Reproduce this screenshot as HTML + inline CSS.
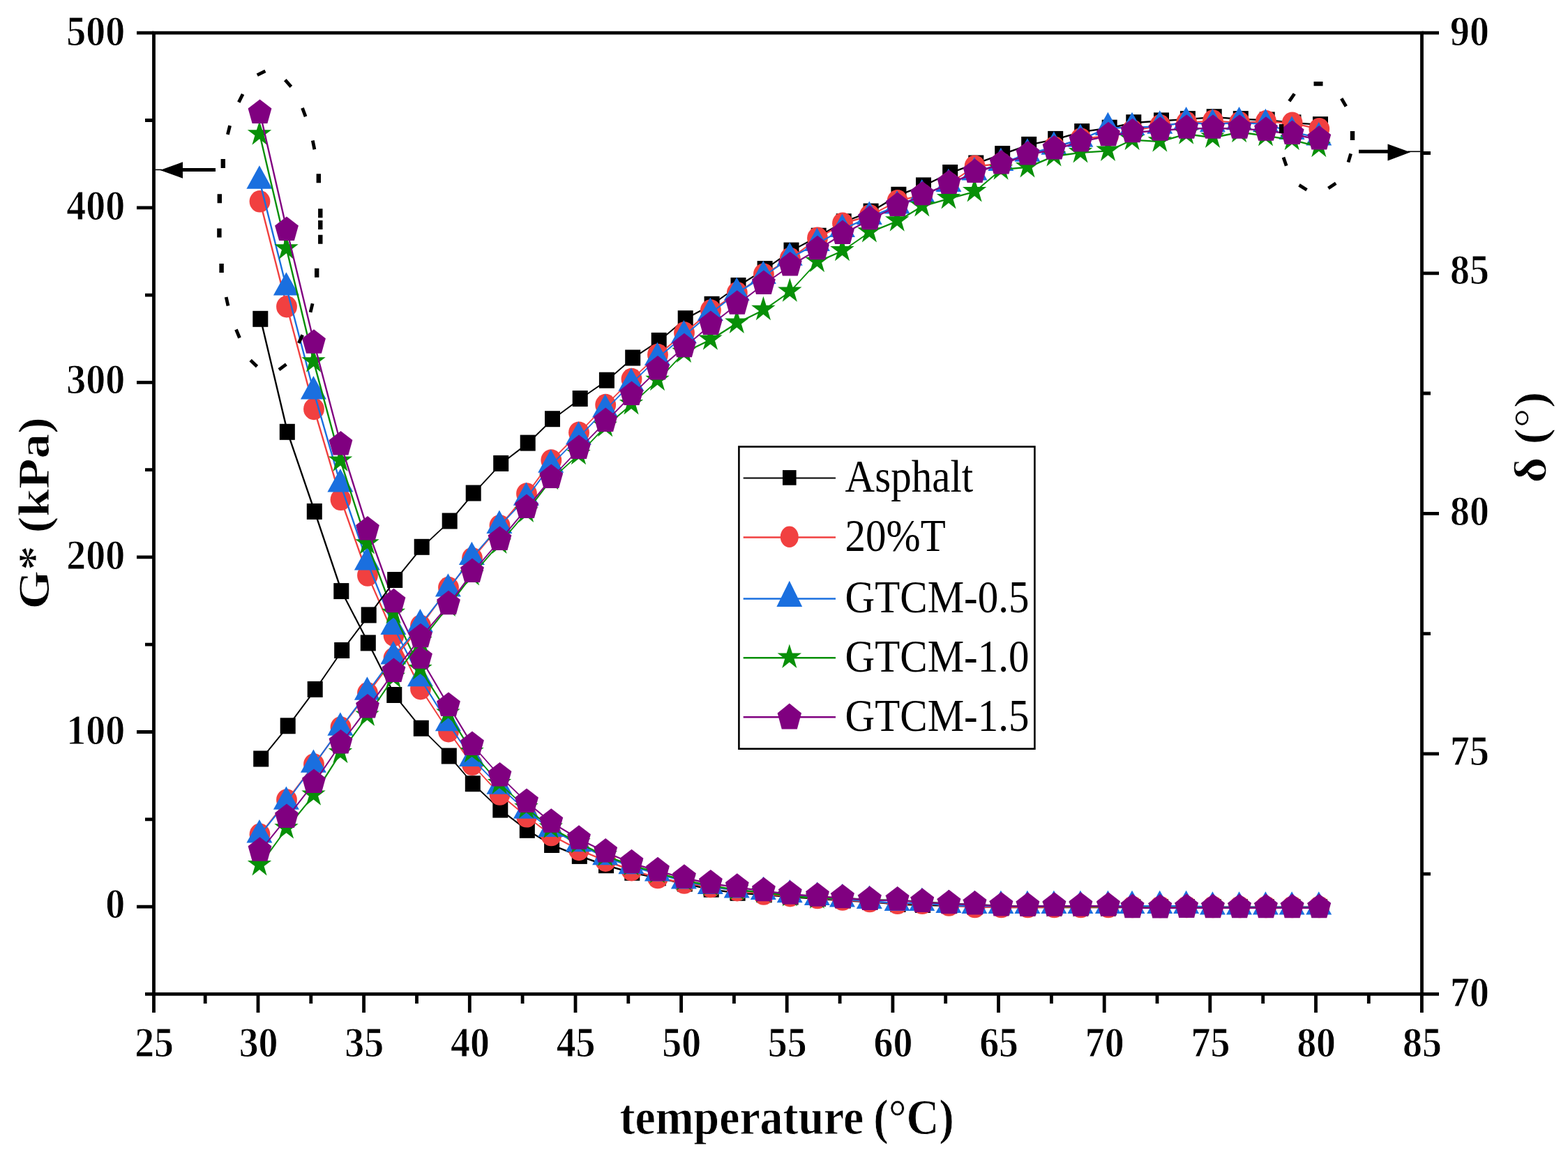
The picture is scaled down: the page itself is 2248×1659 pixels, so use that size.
<!DOCTYPE html>
<html lang="en"><head><meta charset="utf-8"><title>G* and δ versus temperature</title>
<style>html,body{margin:0;padding:0;background:#fff;}body{width:2248px;height:1659px;overflow:hidden;}svg{display:block;}text{font-family:"Liberation Serif","DejaVu Serif",serif;fill:#000;}</style>
</head><body>
<svg width="2248" height="1659" viewBox="0 0 2248 1659">
<rect x="0" y="0" width="2248" height="1659" fill="#fff"/>
<defs>
<rect id="mk" x="-11" y="-11.5" width="22" height="23"/>
<ellipse id="mr" cx="0" cy="0" rx="14.9" ry="15.8"/>
<path id="mb" d="M0 -16.6 L18.5 16.8 H-18.5 Z"/>
<path id="mg" d="M0 -19 L4.1 -6 L17.2 -6 L6.6 2 L10.6 15.4 L0 7 L-10.6 15.4 L-6.6 2 L-17.2 -6 L-4.1 -6 Z"/>
<path id="mp" d="M0 -18.6 L16.9 -5.6 L10.9 15.9 H-10.9 L-16.9 -5.6 Z"/>
</defs>
<g id="plot-gstar">
<g fill="#000000" stroke="none">
<path d="M604.2 1044.6L644.2 1084.3M644.2 1084.3L678.2 1124M678.2 1124L717.7 1161.4" fill="none" stroke="#000000" stroke-width="1.8" stroke-linecap="round"/>
<path d="M565.7 996.8L604.2 1044.6M717.7 1161.4L756.2 1190.6" fill="none" stroke="#000000" stroke-width="2" stroke-linecap="round"/>
<path d="M489.7 847.9L528.2 922.2M528.2 922.2L565.7 996.8M756.2 1190.6L791.5 1211.8" fill="none" stroke="#000000" stroke-width="2.2" stroke-linecap="round"/>
<path d="M373.7 457.6L412.2 619.6M412.2 619.6L451.2 733.7M451.2 733.7L489.7 847.9M791.5 1211.8L831.2 1227.7M831.2 1227.7L869.4 1241M869.4 1241L906.7 1251.6M906.7 1251.6L944.2 1259.1M944.2 1259.1L982.2 1267.4M982.2 1267.4L1020.1 1275.5M1020.1 1275.5L1058 1280.6M1058 1280.6L1096.1 1283.1M1096.1 1283.1L1134 1286.3M1134 1286.3L1173.2 1288.8M1173.2 1288.8L1209.2 1291.3M1209.2 1291.3L1248.1 1293.3M1248.1 1293.3L1287.9 1296.8M1287.9 1296.8L1323.5 1297.8M1323.5 1297.8L1361.7 1298.8M1361.7 1298.8L1398.8 1299.8M1398.8 1299.8L1436.7 1301M1436.7 1301L1474.7 1301M1474.7 1301L1512.7 1301M1512.7 1301L1550.7 1301M1550.7 1301L1590.2 1301M1590.2 1301L1624.8 1301M1624.8 1301L1664.5 1301M1664.5 1301L1702.4 1301M1702.4 1301L1740.2 1301M1740.2 1301L1778.3 1301M1778.3 1301L1816.2 1301M1816.2 1301L1853.9 1301M1853.9 1301L1892.5 1301" fill="none" stroke="#000000" stroke-width="2.4" stroke-linecap="round"/>
<use href="#mk" x="373.3" y="457.3"/><use href="#mk" x="411.8" y="619.3"/><use href="#mk" x="450.8" y="733.4"/><use href="#mk" x="489.3" y="847.6"/><use href="#mk" x="527.8" y="921.9"/><use href="#mk" x="565.3" y="996.5"/><use href="#mk" x="603.8" y="1044.3"/><use href="#mk" x="643.8" y="1084"/><use href="#mk" x="677.8" y="1123.7"/><use href="#mk" x="717.3" y="1161.1"/><use href="#mk" x="755.8" y="1190.3"/><use href="#mk" x="791.1" y="1211.5"/><use href="#mk" x="830.8" y="1227.4"/><use href="#mk" x="869" y="1240.7"/><use href="#mk" x="906.3" y="1251.3"/><use href="#mk" x="943.8" y="1258.8"/><use href="#mk" x="981.8" y="1267.1"/><use href="#mk" x="1019.7" y="1275.2"/><use href="#mk" x="1057.6" y="1280.3"/><use href="#mk" x="1095.7" y="1282.8"/><use href="#mk" x="1133.6" y="1286"/><use href="#mk" x="1172.8" y="1288.5"/><use href="#mk" x="1208.8" y="1291"/><use href="#mk" x="1247.7" y="1293"/><use href="#mk" x="1287.5" y="1296.5"/><use href="#mk" x="1323.1" y="1297.5"/><use href="#mk" x="1361.3" y="1298.5"/><use href="#mk" x="1398.4" y="1299.5"/><use href="#mk" x="1436.3" y="1300.7"/><use href="#mk" x="1474.3" y="1300.7"/><use href="#mk" x="1512.3" y="1300.7"/><use href="#mk" x="1550.3" y="1300.7"/><use href="#mk" x="1589.8" y="1300.7"/><use href="#mk" x="1624.4" y="1300.7"/><use href="#mk" x="1664.1" y="1300.7"/><use href="#mk" x="1702" y="1300.7"/><use href="#mk" x="1739.8" y="1300.7"/><use href="#mk" x="1777.9" y="1300.7"/><use href="#mk" x="1815.8" y="1300.7"/><use href="#mk" x="1853.5" y="1300.7"/><use href="#mk" x="1892.1" y="1300.7"/>
</g>
<g fill="#f14040" stroke="none">
<path d="M677.4 1096.6L716.9 1139.3" fill="none" stroke="#f14040" stroke-width="1.8" stroke-linecap="round"/>
<path d="M603.4 987.9L643.4 1049M643.4 1049L677.4 1096.6M716.9 1139.3L755.4 1171.1M755.4 1171.1L790.7 1197.8" fill="none" stroke="#f14040" stroke-width="2" stroke-linecap="round"/>
<path d="M527.4 825.3L564.9 911.3M564.9 911.3L603.4 987.9M790.7 1197.8L830.4 1218.7" fill="none" stroke="#f14040" stroke-width="2.2" stroke-linecap="round"/>
<path d="M372.9 289.1L411.4 440M411.4 440L450.4 586.7M450.4 586.7L488.9 716.6M488.9 716.6L527.4 825.3M830.4 1218.7L868.6 1234.5M868.6 1234.5L905.9 1247.9M905.9 1247.9L943.4 1258.8M943.4 1258.8L981.4 1266.3M981.4 1266.3L1019.3 1271.8M1019.3 1271.8L1057.2 1276.9M1057.2 1276.9L1095.3 1282.3M1095.3 1282.3L1133.2 1284.9M1133.2 1284.9L1172.4 1287.8M1172.4 1287.8L1208.4 1290.3M1208.4 1290.3L1247.3 1292.8M1247.3 1292.8L1287.1 1295.6M1287.1 1295.6L1322.7 1295.6M1322.7 1295.6L1360.9 1298.3M1360.9 1298.3L1398 1300.8M1398 1300.8L1435.9 1300.8M1435.9 1300.8L1473.9 1300.8M1473.9 1300.8L1511.9 1300.8M1511.9 1300.8L1549.9 1300.8M1549.9 1300.8L1589.4 1300.8M1589.4 1300.8L1624 1300.8M1624 1300.8L1663.7 1300.8M1663.7 1300.8L1701.6 1300.8M1701.6 1300.8L1739.4 1300.8M1739.4 1300.8L1777.5 1300.8M1777.5 1300.8L1815.4 1300.8M1815.4 1300.8L1853.1 1300.8M1853.1 1300.8L1891.7 1300.8" fill="none" stroke="#f14040" stroke-width="2.4" stroke-linecap="round"/>
<use href="#mr" x="372.5" y="288.8"/><use href="#mr" x="411" y="439.7"/><use href="#mr" x="450" y="586.4"/><use href="#mr" x="488.5" y="716.3"/><use href="#mr" x="527" y="825"/><use href="#mr" x="564.5" y="911"/><use href="#mr" x="603" y="987.6"/><use href="#mr" x="643" y="1048.7"/><use href="#mr" x="677" y="1096.3"/><use href="#mr" x="716.5" y="1139"/><use href="#mr" x="755" y="1170.8"/><use href="#mr" x="790.3" y="1197.5"/><use href="#mr" x="830" y="1218.4"/><use href="#mr" x="868.2" y="1234.2"/><use href="#mr" x="905.5" y="1247.6"/><use href="#mr" x="943" y="1258.5"/><use href="#mr" x="981" y="1266"/><use href="#mr" x="1018.9" y="1271.5"/><use href="#mr" x="1056.8" y="1276.6"/><use href="#mr" x="1094.9" y="1282"/><use href="#mr" x="1132.8" y="1284.6"/><use href="#mr" x="1172" y="1287.5"/><use href="#mr" x="1208" y="1290"/><use href="#mr" x="1246.9" y="1292.5"/><use href="#mr" x="1286.7" y="1295.3"/><use href="#mr" x="1322.3" y="1295.3"/><use href="#mr" x="1360.5" y="1298"/><use href="#mr" x="1397.6" y="1300.5"/><use href="#mr" x="1435.5" y="1300.5"/><use href="#mr" x="1473.5" y="1300.5"/><use href="#mr" x="1511.5" y="1300.5"/><use href="#mr" x="1549.5" y="1300.5"/><use href="#mr" x="1589" y="1300.5"/><use href="#mr" x="1623.6" y="1300.5"/><use href="#mr" x="1663.3" y="1300.5"/><use href="#mr" x="1701.2" y="1300.5"/><use href="#mr" x="1739" y="1300.5"/><use href="#mr" x="1777.1" y="1300.5"/><use href="#mr" x="1815" y="1300.5"/><use href="#mr" x="1852.7" y="1300.5"/><use href="#mr" x="1891.3" y="1300.5"/>
</g>
<g fill="#1a6fdf" stroke="none">
<path d="M676.8 1088.2L716.3 1128M716.3 1128L754.8 1163" fill="none" stroke="#1a6fdf" stroke-width="1.8" stroke-linecap="round"/>
<path d="M642.8 1037.4L676.8 1088.2M754.8 1163L790.1 1189.3" fill="none" stroke="#1a6fdf" stroke-width="2" stroke-linecap="round"/>
<path d="M564.3 899.2L602.8 973.5M602.8 973.5L642.8 1037.4M790.1 1189.3L829.8 1210.5M829.8 1210.5L868 1229.4" fill="none" stroke="#1a6fdf" stroke-width="2.2" stroke-linecap="round"/>
<path d="M372.3 259.9L410.8 412.8M410.8 412.8L449.8 561.7M449.8 561.7L488.3 694.6M488.3 694.6L526.8 806.6M526.8 806.6L564.3 899.2M868 1229.4L905.3 1242.4M905.3 1242.4L942.8 1252.8M942.8 1252.8L980.8 1263.6M980.8 1263.6L1018.7 1271.3M1018.7 1271.3L1056.6 1276.8M1056.6 1276.8L1094.7 1279.3M1094.7 1279.3L1132.6 1283.5M1132.6 1283.5L1171.8 1287.1M1171.8 1287.1L1207.8 1289.6M1207.8 1289.6L1246.7 1292.1M1246.7 1292.1L1286.5 1295.1M1286.5 1295.1L1322.1 1295.1M1322.1 1295.1L1360.3 1298.3M1360.3 1298.3L1397.4 1299.3M1397.4 1299.3L1435.3 1299.3M1435.3 1299.3L1473.3 1299.3M1473.3 1299.3L1511.3 1299.3M1511.3 1299.3L1549.3 1299.3M1549.3 1299.3L1588.8 1299.3M1588.8 1299.3L1623.4 1299.3M1623.4 1299.3L1663.1 1299.3M1663.1 1299.3L1701 1299.3M1701 1299.3L1738.8 1300.8M1738.8 1300.8L1776.9 1300.8M1776.9 1300.8L1814.8 1300.8M1814.8 1300.8L1852.5 1300.8M1852.5 1300.8L1891.1 1300.8" fill="none" stroke="#1a6fdf" stroke-width="2.4" stroke-linecap="round"/>
<use href="#mb" x="371.9" y="253.9"/><use href="#mb" x="410.4" y="406.8"/><use href="#mb" x="449.4" y="555.7"/><use href="#mb" x="487.9" y="688.6"/><use href="#mb" x="526.4" y="800.6"/><use href="#mb" x="563.9" y="893.2"/><use href="#mb" x="602.4" y="967.5"/><use href="#mb" x="642.4" y="1031.4"/><use href="#mb" x="676.4" y="1082.2"/><use href="#mb" x="715.9" y="1122"/><use href="#mb" x="754.4" y="1157"/><use href="#mb" x="789.7" y="1183.3"/><use href="#mb" x="829.4" y="1204.5"/><use href="#mb" x="867.6" y="1223.4"/><use href="#mb" x="904.9" y="1236.4"/><use href="#mb" x="942.4" y="1246.8"/><use href="#mb" x="980.4" y="1257.6"/><use href="#mb" x="1018.3" y="1265.3"/><use href="#mb" x="1056.2" y="1270.8"/><use href="#mb" x="1094.3" y="1273.3"/><use href="#mb" x="1132.2" y="1277.5"/><use href="#mb" x="1171.4" y="1281.1"/><use href="#mb" x="1207.4" y="1283.6"/><use href="#mb" x="1246.3" y="1286.1"/><use href="#mb" x="1286.1" y="1289.1"/><use href="#mb" x="1321.7" y="1289.1"/><use href="#mb" x="1359.9" y="1292.3"/><use href="#mb" x="1397" y="1293.3"/><use href="#mb" x="1434.9" y="1293.3"/><use href="#mb" x="1472.9" y="1293.3"/><use href="#mb" x="1510.9" y="1293.3"/><use href="#mb" x="1548.9" y="1293.3"/><use href="#mb" x="1588.4" y="1293.3"/><use href="#mb" x="1623" y="1293.3"/><use href="#mb" x="1662.7" y="1293.3"/><use href="#mb" x="1700.6" y="1293.3"/><use href="#mb" x="1738.4" y="1294.8"/><use href="#mb" x="1776.5" y="1294.8"/><use href="#mb" x="1814.4" y="1294.8"/><use href="#mb" x="1852.1" y="1294.8"/><use href="#mb" x="1890.7" y="1294.8"/>
</g>
<g fill="#078f07" stroke="none">
<path d="M676.9 1078.7L716.4 1123.8M716.4 1123.8L754.9 1158.9" fill="none" stroke="#078f07" stroke-width="1.8" stroke-linecap="round"/>
<path d="M754.9 1158.9L790.2 1187.3" fill="none" stroke="#078f07" stroke-width="2" stroke-linecap="round"/>
<path d="M564.4 879.6L602.9 959.9M602.9 959.9L642.9 1023.4M642.9 1023.4L676.9 1078.7M790.2 1187.3L829.9 1209M829.9 1209L868.1 1227.3" fill="none" stroke="#078f07" stroke-width="2.2" stroke-linecap="round"/>
<path d="M372.4 193.1L410.9 357.1M410.9 357.1L449.9 519.1M449.9 519.1L488.4 661.4M488.4 661.4L526.9 780M526.9 780L564.4 879.6M868.1 1227.3L905.4 1240.7M905.4 1240.7L942.9 1251.6M942.9 1251.6L980.9 1262.4M980.9 1262.4L1018.8 1269.9M1018.8 1269.9L1056.7 1276.1M1056.7 1276.1L1094.8 1279.7M1094.8 1279.7L1132.7 1284.8M1132.7 1284.8L1171.9 1288.1M1171.9 1288.1L1207.9 1287.8M1207.9 1287.8L1246.8 1290.3M1246.8 1290.3L1286.6 1290.8M1286.6 1290.8L1322.2 1293.3M1322.2 1293.3L1360.4 1295.7M1360.4 1295.7L1397.5 1297M1397.5 1297L1435.4 1298.9M1435.4 1298.9L1473.4 1299.5M1473.4 1299.5L1511.4 1300.1M1511.4 1300.1L1549.4 1300.1M1549.4 1300.1L1588.9 1300.1M1588.9 1300.1L1623.5 1301.3M1623.5 1301.3L1663.2 1301.9M1663.2 1301.9L1701.1 1301.5M1701.1 1301.5L1738.9 1301.7M1738.9 1301.7L1777 1301.7M1777 1301.7L1814.9 1301.7M1814.9 1301.7L1852.6 1301.7M1852.6 1301.7L1891.2 1301.7" fill="none" stroke="#078f07" stroke-width="2.4" stroke-linecap="round"/>
<use href="#mg" x="372" y="192.3"/><use href="#mg" x="410.5" y="356.3"/><use href="#mg" x="449.5" y="518.3"/><use href="#mg" x="488" y="660.6"/><use href="#mg" x="526.5" y="779.2"/><use href="#mg" x="564" y="878.8"/><use href="#mg" x="602.5" y="959.1"/><use href="#mg" x="642.5" y="1022.6"/><use href="#mg" x="676.5" y="1077.9"/><use href="#mg" x="716" y="1123"/><use href="#mg" x="754.5" y="1158.1"/><use href="#mg" x="789.8" y="1186.5"/><use href="#mg" x="829.5" y="1208.2"/><use href="#mg" x="867.7" y="1226.5"/><use href="#mg" x="905" y="1239.9"/><use href="#mg" x="942.5" y="1250.8"/><use href="#mg" x="980.5" y="1261.6"/><use href="#mg" x="1018.4" y="1269.1"/><use href="#mg" x="1056.3" y="1275.3"/><use href="#mg" x="1094.4" y="1278.9"/><use href="#mg" x="1132.3" y="1284"/><use href="#mg" x="1171.5" y="1287.3"/><use href="#mg" x="1207.5" y="1287"/><use href="#mg" x="1246.4" y="1289.5"/><use href="#mg" x="1286.2" y="1290"/><use href="#mg" x="1321.8" y="1292.5"/><use href="#mg" x="1360" y="1294.9"/><use href="#mg" x="1397.1" y="1296.2"/><use href="#mg" x="1435" y="1298.1"/><use href="#mg" x="1473" y="1298.7"/><use href="#mg" x="1511" y="1299.3"/><use href="#mg" x="1549" y="1299.3"/><use href="#mg" x="1588.5" y="1299.3"/><use href="#mg" x="1623.1" y="1300.5"/><use href="#mg" x="1662.8" y="1301.1"/><use href="#mg" x="1700.7" y="1300.7"/><use href="#mg" x="1738.5" y="1300.9"/><use href="#mg" x="1776.6" y="1300.9"/><use href="#mg" x="1814.5" y="1300.9"/><use href="#mg" x="1852.2" y="1300.9"/><use href="#mg" x="1890.8" y="1300.9"/>
</g>
<g fill="#800080" stroke="none">
<path d="M677.4 1068.5L716.9 1113.1M716.9 1113.1L755.4 1150.5" fill="none" stroke="#800080" stroke-width="1.8" stroke-linecap="round"/>
<path d="M755.4 1150.5L790.7 1179.4" fill="none" stroke="#800080" stroke-width="2" stroke-linecap="round"/>
<path d="M564.9 863.8L603.4 944.3M603.4 944.3L643.4 1012.5M643.4 1012.5L677.4 1068.5M790.7 1179.4L830.4 1203.3M830.4 1203.3L868.6 1222M868.6 1222L905.9 1237.9" fill="none" stroke="#800080" stroke-width="2.2" stroke-linecap="round"/>
<path d="M372.9 162.5L411.4 330.5M411.4 330.5L450.4 492.3M450.4 492.3L488.9 638.2M488.9 638.2L527.4 760.1M527.4 760.1L564.9 863.8M905.9 1237.9L943.4 1248.8M943.4 1248.8L981.4 1259.3M981.4 1259.3L1019.3 1267M1019.3 1267L1057.2 1272.4M1057.2 1272.4L1095.3 1277.8M1095.3 1277.8L1133.2 1282.3M1133.2 1282.3L1172.4 1285.3M1172.4 1285.3L1208.4 1287.8M1208.4 1287.8L1247.3 1290.6M1247.3 1290.6L1287.1 1291.1M1287.1 1291.1L1322.7 1293.6M1322.7 1293.6L1360.9 1295.9M1360.9 1295.9L1398 1297.2M1398 1297.2L1435.9 1299.1M1435.9 1299.1L1473.9 1299.7M1473.9 1299.7L1511.9 1299.3M1511.9 1299.3L1549.9 1299.3M1549.9 1299.3L1589.4 1299.3M1589.4 1299.3L1624 1301.8M1624 1301.8L1663.7 1302.1M1663.7 1302.1L1701.6 1301.7M1701.6 1301.7L1739.4 1301.9M1739.4 1301.9L1777.5 1301.9M1777.5 1301.9L1815.4 1301.9M1815.4 1301.9L1853.1 1301.9M1853.1 1301.9L1891.7 1301.9" fill="none" stroke="#800080" stroke-width="2.4" stroke-linecap="round"/>
<use href="#mp" x="372.5" y="161"/><use href="#mp" x="411" y="329"/><use href="#mp" x="450" y="490.8"/><use href="#mp" x="488.5" y="636.7"/><use href="#mp" x="527" y="758.6"/><use href="#mp" x="564.5" y="862.3"/><use href="#mp" x="603" y="942.8"/><use href="#mp" x="643" y="1011"/><use href="#mp" x="677" y="1067"/><use href="#mp" x="716.5" y="1111.6"/><use href="#mp" x="755" y="1149"/><use href="#mp" x="790.3" y="1177.9"/><use href="#mp" x="830" y="1201.8"/><use href="#mp" x="868.2" y="1220.5"/><use href="#mp" x="905.5" y="1236.4"/><use href="#mp" x="943" y="1247.3"/><use href="#mp" x="981" y="1257.8"/><use href="#mp" x="1018.9" y="1265.5"/><use href="#mp" x="1056.8" y="1270.9"/><use href="#mp" x="1094.9" y="1276.3"/><use href="#mp" x="1132.8" y="1280.8"/><use href="#mp" x="1172" y="1283.8"/><use href="#mp" x="1208" y="1286.3"/><use href="#mp" x="1246.9" y="1289.1"/><use href="#mp" x="1286.7" y="1289.6"/><use href="#mp" x="1322.3" y="1292.1"/><use href="#mp" x="1360.5" y="1294.4"/><use href="#mp" x="1397.6" y="1295.7"/><use href="#mp" x="1435.5" y="1297.6"/><use href="#mp" x="1473.5" y="1298.2"/><use href="#mp" x="1511.5" y="1297.8"/><use href="#mp" x="1549.5" y="1297.8"/><use href="#mp" x="1589" y="1297.8"/><use href="#mp" x="1623.6" y="1300.3"/><use href="#mp" x="1663.3" y="1300.6"/><use href="#mp" x="1701.2" y="1300.2"/><use href="#mp" x="1739" y="1300.4"/><use href="#mp" x="1777.1" y="1300.4"/><use href="#mp" x="1815" y="1300.4"/><use href="#mp" x="1852.7" y="1300.4"/><use href="#mp" x="1891.3" y="1300.4"/>
</g>
</g>
<g id="plot-delta">
<g fill="#000000" stroke="none">
<path d="M605.1 784.6L645.1 747.3M679.1 707.3L718.6 664.7M757.1 635.4L792.4 601M870.3 545.5L907.6 513.3" fill="none" stroke="#000000" stroke-width="1.8" stroke-linecap="round"/>
<path d="M374.6 1088.3L413.1 1041.1M413.1 1041.1L452.1 988.7M452.1 988.7L490.6 932.8M490.6 932.8L529.1 882.2M529.1 882.2L566.6 831.8M566.6 831.8L605.1 784.6M645.1 747.3L679.1 707.3M718.6 664.7L757.1 635.4M792.4 601L832.1 571.8M832.1 571.8L870.3 545.5M907.6 513.3L945.1 488.7M945.1 488.7L983.1 457M1021 436.6L1058.9 409.8M1097 385.9L1134.9 359.4" fill="none" stroke="#000000" stroke-width="2" stroke-linecap="round"/>
<path d="M983.1 457L1021 436.6M1058.9 409.8L1097 385.9M1134.9 359.4L1174.1 338.5M1174.1 338.5L1210.1 318M1249 303.4L1288.8 279.6M1324.4 266.2L1362.6 247.8" fill="none" stroke="#000000" stroke-width="2.2" stroke-linecap="round"/>
<path d="M1210.1 318L1249 303.4M1288.8 279.6L1324.4 266.2M1362.6 247.8L1399.7 234.3M1399.7 234.3L1437.6 220.9M1437.6 220.9L1475.6 207.7M1475.6 207.7L1513.6 199.7M1513.6 199.7L1551.6 188.9M1551.6 188.9L1591.1 183.5M1591.1 183.5L1625.7 176M1625.7 176L1665.4 173.2M1665.4 173.2L1703.3 170.9M1703.3 170.9L1741.1 168M1741.1 168L1779.2 170.9M1779.2 170.9L1817.1 172.2M1817.1 172.2L1854.8 176.1M1854.8 176.1L1893.4 178.9" fill="none" stroke="#000000" stroke-width="2.4" stroke-linecap="round"/>
<use href="#mk" x="374.2" y="1088"/><use href="#mk" x="412.7" y="1040.8"/><use href="#mk" x="451.7" y="988.4"/><use href="#mk" x="490.2" y="932.5"/><use href="#mk" x="528.7" y="881.9"/><use href="#mk" x="566.2" y="831.5"/><use href="#mk" x="604.7" y="784.3"/><use href="#mk" x="644.7" y="747"/><use href="#mk" x="678.7" y="707"/><use href="#mk" x="718.2" y="664.4"/><use href="#mk" x="756.7" y="635.1"/><use href="#mk" x="792" y="600.7"/><use href="#mk" x="831.7" y="571.5"/><use href="#mk" x="869.9" y="545.2"/><use href="#mk" x="907.2" y="513"/><use href="#mk" x="944.7" y="488.4"/><use href="#mk" x="982.7" y="456.7"/><use href="#mk" x="1020.6" y="436.3"/><use href="#mk" x="1058.5" y="409.5"/><use href="#mk" x="1096.6" y="385.6"/><use href="#mk" x="1134.5" y="359.1"/><use href="#mk" x="1173.7" y="338.2"/><use href="#mk" x="1209.7" y="317.7"/><use href="#mk" x="1248.6" y="303.1"/><use href="#mk" x="1288.4" y="279.3"/><use href="#mk" x="1324" y="265.9"/><use href="#mk" x="1362.2" y="247.5"/><use href="#mk" x="1399.3" y="234"/><use href="#mk" x="1437.2" y="220.6"/><use href="#mk" x="1475.2" y="207.4"/><use href="#mk" x="1513.2" y="199.4"/><use href="#mk" x="1551.2" y="188.6"/><use href="#mk" x="1590.7" y="183.2"/><use href="#mk" x="1625.3" y="175.7"/><use href="#mk" x="1665" y="172.9"/><use href="#mk" x="1702.9" y="170.6"/><use href="#mk" x="1740.7" y="167.7"/><use href="#mk" x="1778.8" y="170.6"/><use href="#mk" x="1816.7" y="171.9"/><use href="#mk" x="1854.4" y="175.8"/><use href="#mk" x="1893" y="178.6"/>
</g>
<g fill="#f14040" stroke="none">
<path d="M790.7 660.3L830.4 620.5M830.4 620.5L868.6 580.9M868.6 580.9L905.9 543.9M905.9 543.9L943.4 508.8" fill="none" stroke="#f14040" stroke-width="1.8" stroke-linecap="round"/>
<path d="M372.9 1196.6L411.4 1147.3M411.4 1147.3L450.4 1096.3M450.4 1096.3L488.9 1043.3M488.9 1043.3L527.4 994.1M527.4 994.1L564.9 944.3M564.9 944.3L603.4 897.5M603.4 897.5L643.4 842.9M643.4 842.9L677.4 800.8M677.4 800.8L716.9 754M716.9 754L755.4 708.3M755.4 708.3L790.7 660.3M943.4 508.8L981.4 477.4M981.4 477.4L1019.3 445.3M1019.3 445.3L1057.2 420.2M1057.2 420.2L1095.3 393.5M1133.2 370.9L1172.4 341.7M1360.9 263.3L1398 238.5" fill="none" stroke="#f14040" stroke-width="2" stroke-linecap="round"/>
<path d="M1095.3 393.5L1133.2 370.9M1172.4 341.7L1208.4 320.5M1247.3 309.1L1287.1 288.2M1322.7 279.7L1360.9 263.3" fill="none" stroke="#f14040" stroke-width="2.2" stroke-linecap="round"/>
<path d="M1208.4 320.5L1247.3 309.1M1287.1 288.2L1322.7 279.7M1398 238.5L1435.9 234.8M1435.9 234.8L1473.9 222M1473.9 222L1511.9 211.3M1511.9 211.3L1549.9 199.3M1549.9 199.3L1589.4 194.7M1589.4 194.7L1624 187.3M1624 187.3L1663.7 180.1M1663.7 180.1L1701.6 175.9M1701.6 175.9L1739.4 173.4M1739.4 173.4L1777.5 175.9M1777.5 175.9L1815.4 174.2M1815.4 174.2L1853.1 176.7M1853.1 176.7L1891.7 185.1" fill="none" stroke="#f14040" stroke-width="2.4" stroke-linecap="round"/>
<use href="#mr" x="372.5" y="1196.3"/><use href="#mr" x="411" y="1147"/><use href="#mr" x="450" y="1096"/><use href="#mr" x="488.5" y="1043"/><use href="#mr" x="527" y="993.8"/><use href="#mr" x="564.5" y="944"/><use href="#mr" x="603" y="897.2"/><use href="#mr" x="643" y="842.6"/><use href="#mr" x="677" y="800.5"/><use href="#mr" x="716.5" y="753.7"/><use href="#mr" x="755" y="708"/><use href="#mr" x="790.3" y="660"/><use href="#mr" x="830" y="620.2"/><use href="#mr" x="868.2" y="580.6"/><use href="#mr" x="905.5" y="543.6"/><use href="#mr" x="943" y="508.5"/><use href="#mr" x="981" y="477.1"/><use href="#mr" x="1018.9" y="445"/><use href="#mr" x="1056.8" y="419.9"/><use href="#mr" x="1094.9" y="393.2"/><use href="#mr" x="1132.8" y="370.6"/><use href="#mr" x="1172" y="341.4"/><use href="#mr" x="1208" y="320.2"/><use href="#mr" x="1246.9" y="308.8"/><use href="#mr" x="1286.7" y="287.9"/><use href="#mr" x="1322.3" y="279.4"/><use href="#mr" x="1360.5" y="263"/><use href="#mr" x="1397.6" y="238.2"/><use href="#mr" x="1435.5" y="234.5"/><use href="#mr" x="1473.5" y="221.7"/><use href="#mr" x="1511.5" y="211"/><use href="#mr" x="1549.5" y="199"/><use href="#mr" x="1589" y="194.4"/><use href="#mr" x="1623.6" y="187"/><use href="#mr" x="1663.3" y="179.8"/><use href="#mr" x="1701.2" y="175.6"/><use href="#mr" x="1739" y="173.1"/><use href="#mr" x="1777.1" y="175.6"/><use href="#mr" x="1815" y="173.9"/><use href="#mr" x="1852.7" y="176.4"/><use href="#mr" x="1891.3" y="184.8"/>
</g>
<g fill="#1a6fdf" stroke="none">
<path d="M676.8 799.3L716.3 754.2M716.3 754.2L754.8 714M790.1 666.9L829.8 626.8M829.8 626.8L868 587.6M868 587.6L905.3 550M905.3 550L942.8 513.3" fill="none" stroke="#1a6fdf" stroke-width="1.8" stroke-linecap="round"/>
<path d="M372.3 1197.6L410.8 1150M410.8 1150L449.8 1097M449.8 1097L488.3 1043.9M488.3 1043.9L526.8 992.9M526.8 992.9L564.3 941.6M564.3 941.6L602.8 895.7M602.8 895.7L642.8 844.8M642.8 844.8L676.8 799.3M754.8 714L790.1 666.9M942.8 513.3L980.8 481.5M980.8 481.5L1018.7 449.1M1018.7 449.1L1056.6 420.2M1094.7 396.3L1132.6 370" fill="none" stroke="#1a6fdf" stroke-width="2" stroke-linecap="round"/>
<path d="M1056.6 420.2L1094.7 396.3M1132.6 370L1171.8 349.2M1171.8 349.2L1207.8 329.1M1207.8 329.1L1246.7 311.1M1286.5 295.7L1322.1 279.5M1360.3 264.3L1397.4 247.6" fill="none" stroke="#1a6fdf" stroke-width="2.2" stroke-linecap="round"/>
<path d="M1246.7 311.1L1286.5 295.7M1322.1 279.5L1360.3 264.3M1397.4 247.6L1435.3 234.3M1435.3 234.3L1473.3 220.9M1473.3 220.9L1511.3 210.9M1511.3 210.9L1549.3 200M1549.3 200L1588.8 183.3M1588.8 183.3L1623.4 183.3M1623.4 183.3L1663.1 180.9M1663.1 180.9L1701 175.5M1701 175.5L1738.8 178.4M1738.8 178.4L1776.9 175.5M1776.9 175.5L1814.8 178.4M1814.8 178.4L1852.5 189.2M1852.5 189.2L1891.1 197.6" fill="none" stroke="#1a6fdf" stroke-width="2.4" stroke-linecap="round"/>
<use href="#mb" x="371.9" y="1191.6"/><use href="#mb" x="410.4" y="1144"/><use href="#mb" x="449.4" y="1091"/><use href="#mb" x="487.9" y="1037.9"/><use href="#mb" x="526.4" y="986.9"/><use href="#mb" x="563.9" y="935.6"/><use href="#mb" x="602.4" y="889.7"/><use href="#mb" x="642.4" y="838.8"/><use href="#mb" x="676.4" y="793.3"/><use href="#mb" x="715.9" y="748.2"/><use href="#mb" x="754.4" y="708"/><use href="#mb" x="789.7" y="660.9"/><use href="#mb" x="829.4" y="620.8"/><use href="#mb" x="867.6" y="581.6"/><use href="#mb" x="904.9" y="544"/><use href="#mb" x="942.4" y="507.3"/><use href="#mb" x="980.4" y="475.5"/><use href="#mb" x="1018.3" y="443.1"/><use href="#mb" x="1056.2" y="414.2"/><use href="#mb" x="1094.3" y="390.3"/><use href="#mb" x="1132.2" y="364"/><use href="#mb" x="1171.4" y="343.2"/><use href="#mb" x="1207.4" y="323.1"/><use href="#mb" x="1246.3" y="305.1"/><use href="#mb" x="1286.1" y="289.7"/><use href="#mb" x="1321.7" y="273.5"/><use href="#mb" x="1359.9" y="258.3"/><use href="#mb" x="1397" y="241.6"/><use href="#mb" x="1434.9" y="228.3"/><use href="#mb" x="1472.9" y="214.9"/><use href="#mb" x="1510.9" y="204.9"/><use href="#mb" x="1548.9" y="194"/><use href="#mb" x="1588.4" y="177.3"/><use href="#mb" x="1623" y="177.3"/><use href="#mb" x="1662.7" y="174.9"/><use href="#mb" x="1700.6" y="169.5"/><use href="#mb" x="1738.4" y="172.4"/><use href="#mb" x="1776.5" y="169.5"/><use href="#mb" x="1814.4" y="172.4"/><use href="#mb" x="1852.1" y="183.2"/><use href="#mb" x="1890.7" y="191.6"/>
</g>
<g fill="#078f07" stroke="none">
<path d="M676.9 824.8L716.4 779.3M716.4 779.3L754.9 734.3M790.2 687.6L829.9 651.7M829.9 651.7L868.1 611.6M905.4 579.9L942.9 545.6M942.9 545.6L980.9 505.5M1132.7 418.2L1171.9 375.6" fill="none" stroke="#078f07" stroke-width="1.8" stroke-linecap="round"/>
<path d="M372.4 1240.9L410.9 1188M410.9 1188L449.9 1140.2M488.4 1079.7L526.9 1026.3M526.9 1026.3L564.4 971.6M564.4 971.6L602.9 919.8M602.9 919.8L642.9 869.4M642.9 869.4L676.9 824.8M754.9 734.3L790.2 687.6M868.1 611.6L905.4 579.9M1094.8 444.6L1132.7 418.2M1207.9 359.7L1246.8 333M1397.5 274.9L1435.4 243.1" fill="none" stroke="#078f07" stroke-width="2" stroke-linecap="round"/>
<path d="M449.9 1140.2L488.4 1079.7M980.9 505.5L1018.8 487.2M1018.8 487.2L1056.7 463.3M1056.7 463.3L1094.8 444.6M1171.9 375.6L1207.9 359.7M1286.6 317.1L1322.2 295.8M1588.9 216.4L1623.5 200.6" fill="none" stroke="#078f07" stroke-width="2.2" stroke-linecap="round"/>
<path d="M1246.8 333L1286.6 317.1M1322.2 295.8L1360.4 284.9M1360.4 284.9L1397.5 274.9M1435.4 243.1L1473.4 239.8M1473.4 239.8L1511.4 223.9M1511.4 223.9L1549.4 218.9M1549.4 218.9L1588.9 216.4M1623.5 200.6L1663.2 203.1M1663.2 203.1L1701.1 192.2M1701.1 192.2L1738.9 197.3M1738.9 197.3L1777 189.7M1777 189.7L1814.9 194.8M1814.9 194.8L1852.6 200.6M1852.6 200.6L1891.2 210.6" fill="none" stroke="#078f07" stroke-width="2.4" stroke-linecap="round"/>
<use href="#mg" x="372" y="1240.1"/><use href="#mg" x="410.5" y="1187.2"/><use href="#mg" x="449.5" y="1139.4"/><use href="#mg" x="488" y="1078.9"/><use href="#mg" x="526.5" y="1025.5"/><use href="#mg" x="564" y="970.8"/><use href="#mg" x="602.5" y="919"/><use href="#mg" x="642.5" y="868.6"/><use href="#mg" x="676.5" y="824"/><use href="#mg" x="716" y="778.5"/><use href="#mg" x="754.5" y="733.5"/><use href="#mg" x="789.8" y="686.8"/><use href="#mg" x="829.5" y="650.9"/><use href="#mg" x="867.7" y="610.8"/><use href="#mg" x="905" y="579.1"/><use href="#mg" x="942.5" y="544.8"/><use href="#mg" x="980.5" y="504.7"/><use href="#mg" x="1018.4" y="486.4"/><use href="#mg" x="1056.3" y="462.5"/><use href="#mg" x="1094.4" y="443.8"/><use href="#mg" x="1132.3" y="417.4"/><use href="#mg" x="1171.5" y="374.8"/><use href="#mg" x="1207.5" y="358.9"/><use href="#mg" x="1246.4" y="332.2"/><use href="#mg" x="1286.2" y="316.3"/><use href="#mg" x="1321.8" y="295"/><use href="#mg" x="1360" y="284.1"/><use href="#mg" x="1397.1" y="274.1"/><use href="#mg" x="1435" y="242.3"/><use href="#mg" x="1473" y="239"/><use href="#mg" x="1511" y="223.1"/><use href="#mg" x="1549" y="218.1"/><use href="#mg" x="1588.5" y="215.6"/><use href="#mg" x="1623.1" y="199.8"/><use href="#mg" x="1662.8" y="202.3"/><use href="#mg" x="1700.7" y="191.4"/><use href="#mg" x="1738.5" y="196.5"/><use href="#mg" x="1776.6" y="188.9"/><use href="#mg" x="1814.5" y="194"/><use href="#mg" x="1852.2" y="199.8"/><use href="#mg" x="1890.8" y="209.8"/>
</g>
<g fill="#800080" stroke="none">
<path d="M677.4 820.7L716.9 774.6M790.7 685.5L830.4 643.6M830.4 643.6L868.6 604.5M868.6 604.5L905.9 566.5M905.9 566.5L943.4 530.2" fill="none" stroke="#800080" stroke-width="1.8" stroke-linecap="round"/>
<path d="M372.9 1220.3L411.4 1172.7M411.4 1172.7L450.4 1122.6M450.4 1122.6L488.9 1066M488.9 1066L527.4 1015.1M527.4 1015.1L564.9 963.7M564.9 963.7L603.4 913.9M603.4 913.9L643.4 866.8M643.4 866.8L677.4 820.7M716.9 774.6L755.4 728.7M755.4 728.7L790.7 685.5M943.4 530.2L981.4 497.8M981.4 497.8L1019.3 465.7M1019.3 465.7L1057.2 436.3M1057.2 436.3L1095.3 407.5M1095.3 407.5L1133.2 381" fill="none" stroke="#800080" stroke-width="2" stroke-linecap="round"/>
<path d="M1133.2 381L1172.4 357.9M1172.4 357.9L1208.4 335.7M1208.4 335.7L1247.3 314.8M1247.3 314.8L1287.1 295.6M1287.1 295.6L1322.7 279.9M1322.7 279.9L1360.9 263.5" fill="none" stroke="#800080" stroke-width="2.2" stroke-linecap="round"/>
<path d="M1360.9 263.5L1398 247.7M1398 247.7L1435.9 235M1435.9 235L1473.9 222.2M1473.9 222.2L1511.9 214.1M1511.9 214.1L1549.9 203.2M1549.9 203.2L1589.4 194.9M1589.4 194.9L1624 189.9M1624 189.9L1663.7 187.3M1663.7 187.3L1701.6 184.3M1701.6 184.3L1739.4 184.3M1739.4 184.3L1777.5 184.3M1777.5 184.3L1815.4 187.3M1815.4 187.3L1853.1 192.5M1853.1 192.5L1891.7 200.2" fill="none" stroke="#800080" stroke-width="2.4" stroke-linecap="round"/>
<use href="#mp" x="372.5" y="1218.8"/><use href="#mp" x="411" y="1171.2"/><use href="#mp" x="450" y="1121.1"/><use href="#mp" x="488.5" y="1064.5"/><use href="#mp" x="527" y="1013.6"/><use href="#mp" x="564.5" y="962.2"/><use href="#mp" x="603" y="912.4"/><use href="#mp" x="643" y="865.3"/><use href="#mp" x="677" y="819.2"/><use href="#mp" x="716.5" y="773.1"/><use href="#mp" x="755" y="727.2"/><use href="#mp" x="790.3" y="684"/><use href="#mp" x="830" y="642.1"/><use href="#mp" x="868.2" y="603"/><use href="#mp" x="905.5" y="565"/><use href="#mp" x="943" y="528.7"/><use href="#mp" x="981" y="496.3"/><use href="#mp" x="1018.9" y="464.2"/><use href="#mp" x="1056.8" y="434.8"/><use href="#mp" x="1094.9" y="406"/><use href="#mp" x="1132.8" y="379.5"/><use href="#mp" x="1172" y="356.4"/><use href="#mp" x="1208" y="334.2"/><use href="#mp" x="1246.9" y="313.3"/><use href="#mp" x="1286.7" y="294.1"/><use href="#mp" x="1322.3" y="278.4"/><use href="#mp" x="1360.5" y="262"/><use href="#mp" x="1397.6" y="246.2"/><use href="#mp" x="1435.5" y="233.5"/><use href="#mp" x="1473.5" y="220.7"/><use href="#mp" x="1511.5" y="212.6"/><use href="#mp" x="1549.5" y="201.7"/><use href="#mp" x="1589" y="193.4"/><use href="#mp" x="1623.6" y="188.4"/><use href="#mp" x="1663.3" y="185.8"/><use href="#mp" x="1701.2" y="182.8"/><use href="#mp" x="1739" y="182.8"/><use href="#mp" x="1777.1" y="182.8"/><use href="#mp" x="1815" y="185.8"/><use href="#mp" x="1852.7" y="191"/><use href="#mp" x="1891.3" y="198.7"/>
</g>
</g>
<g stroke="#000" stroke-width="4.8" fill="none" stroke-linecap="butt">
<path d="M220.5 44.800000000000004 V1427.8000000000002 M2038.5 44.800000000000004 V1427.8000000000002 M218.1 47.2 H2040.9 M218.1 1425.4 H2040.9"/>
<path d="M220.5 1425.4 V1451.9 M370.0 1425.4 V1451.9 M521.6 1425.4 V1451.9 M673.3 1425.4 V1451.9 M825.0 1425.4 V1451.9 M976.6 1425.4 V1451.9 M1128.2 1425.4 V1451.9 M1279.9 1425.4 V1451.9 M1431.5 1425.4 V1451.9 M1583.2 1425.4 V1451.9 M1734.8 1425.4 V1451.9 M1886.5 1425.4 V1451.9 M2038.4 1425.4 V1451.9 M294.2 1425.4 V1438.9 M445.8 1425.4 V1438.9 M597.5 1425.4 V1438.9 M749.1 1425.4 V1438.9 M900.8 1425.4 V1438.9 M1052.4 1425.4 V1438.9 M1204.1 1425.4 V1438.9 M1355.7 1425.4 V1438.9 M1507.4 1425.4 V1438.9 M1659.0 1425.4 V1438.9 M1810.7 1425.4 V1438.9 M1962.3 1425.4 V1438.9 M220.5 1300.1 H196.0 M220.5 1049.5 H196.0 M220.5 798.9 H196.0 M220.5 548.4 H196.0 M220.5 297.8 H196.0 M220.5 47.2 H196.0 M220.5 1425.4 H208.0 M220.5 1174.8 H208.0 M220.5 924.2 H208.0 M220.5 673.7 H208.0 M220.5 423.1 H208.0 M220.5 172.5 H208.0 M2038.5 1425.4 H2063.0 M2038.5 1080.9 H2063.0 M2038.5 736.3 H2063.0 M2038.5 391.8 H2063.0 M2038.5 47.2 H2063.0 M2038.5 1253.1 H2051.0 M2038.5 908.6 H2051.0 M2038.5 564.0 H2051.0 M2038.5 219.5 H2051.0"/>
</g>
<text transform="translate(179.2 1315.9) scale(0.925 1)" font-size="60.5" font-weight="bold" stroke="#fff" stroke-width="1" text-anchor="end">0</text>
<text transform="translate(179.2 1066.7) scale(0.925 1)" font-size="60.5" font-weight="bold" stroke="#fff" stroke-width="1" text-anchor="end">100</text>
<text transform="translate(179.2 815.7) scale(0.925 1)" font-size="60.5" font-weight="bold" stroke="#fff" stroke-width="1" text-anchor="end">200</text>
<text transform="translate(179.2 564.3) scale(0.925 1)" font-size="60.5" font-weight="bold" stroke="#fff" stroke-width="1" text-anchor="end">300</text>
<text transform="translate(179.2 315.3) scale(0.925 1)" font-size="60.5" font-weight="bold" stroke="#fff" stroke-width="1" text-anchor="end">400</text>
<text transform="translate(179.2 64.9) scale(0.925 1)" font-size="60.5" font-weight="bold" stroke="#fff" stroke-width="1" text-anchor="end">500</text>
<text transform="translate(221.1 1515.4) scale(0.925 1)" font-size="60.5" font-weight="bold" stroke="#fff" stroke-width="1" text-anchor="middle">25</text>
<text transform="translate(370.6 1515.4) scale(0.925 1)" font-size="60.5" font-weight="bold" stroke="#fff" stroke-width="1" text-anchor="middle">30</text>
<text transform="translate(522.2 1515.4) scale(0.925 1)" font-size="60.5" font-weight="bold" stroke="#fff" stroke-width="1" text-anchor="middle">35</text>
<text transform="translate(673.9 1515.4) scale(0.925 1)" font-size="60.5" font-weight="bold" stroke="#fff" stroke-width="1" text-anchor="middle">40</text>
<text transform="translate(825.6 1515.4) scale(0.925 1)" font-size="60.5" font-weight="bold" stroke="#fff" stroke-width="1" text-anchor="middle">45</text>
<text transform="translate(977.2 1515.4) scale(0.925 1)" font-size="60.5" font-weight="bold" stroke="#fff" stroke-width="1" text-anchor="middle">50</text>
<text transform="translate(1128.8 1515.4) scale(0.925 1)" font-size="60.5" font-weight="bold" stroke="#fff" stroke-width="1" text-anchor="middle">55</text>
<text transform="translate(1280.5 1515.4) scale(0.925 1)" font-size="60.5" font-weight="bold" stroke="#fff" stroke-width="1" text-anchor="middle">60</text>
<text transform="translate(1432.1 1515.4) scale(0.925 1)" font-size="60.5" font-weight="bold" stroke="#fff" stroke-width="1" text-anchor="middle">65</text>
<text transform="translate(1583.8 1515.4) scale(0.925 1)" font-size="60.5" font-weight="bold" stroke="#fff" stroke-width="1" text-anchor="middle">70</text>
<text transform="translate(1735.4 1515.4) scale(0.925 1)" font-size="60.5" font-weight="bold" stroke="#fff" stroke-width="1" text-anchor="middle">75</text>
<text transform="translate(1887.1 1515.4) scale(0.925 1)" font-size="60.5" font-weight="bold" stroke="#fff" stroke-width="1" text-anchor="middle">80</text>
<text transform="translate(2039 1515.4) scale(0.925 1)" font-size="60.5" font-weight="bold" stroke="#fff" stroke-width="1" text-anchor="middle">85</text>
<text transform="translate(2078.9 1443.3) scale(0.925 1)" font-size="60.5" font-weight="bold" stroke="#fff" stroke-width="1" text-anchor="start">70</text>
<text transform="translate(2078.9 1097.4) scale(0.925 1)" font-size="60.5" font-weight="bold" stroke="#fff" stroke-width="1" text-anchor="start">75</text>
<text transform="translate(2078.9 753.3) scale(0.925 1)" font-size="60.5" font-weight="bold" stroke="#fff" stroke-width="1" text-anchor="start">80</text>
<text transform="translate(2078.9 407.4) scale(0.925 1)" font-size="60.5" font-weight="bold" stroke="#fff" stroke-width="1" text-anchor="start">85</text>
<text transform="translate(2078.9 65) scale(0.925 1)" font-size="60.5" font-weight="bold" stroke="#fff" stroke-width="1" text-anchor="start">90</text>
<text transform="translate(888.6 1625.6) scale(0.908 1)" font-size="72.5" font-weight="bold" stroke="#fff" stroke-width="0.8" text-anchor="start">temperature <tspan font-size="71.3" dx="-2.8">(°C)</tspan></text>
<text transform="translate(70.3 735.8) rotate(-90) scale(1.115 1)" font-size="64" font-weight="bold" stroke="#fff" stroke-width="0.9" text-anchor="middle">G* (kPa)</text>
<text transform="translate(2216 627) rotate(-90) scale(1.105 1)" font-size="64.6" font-weight="bold" stroke="#fff" stroke-width="1.2" text-anchor="middle">δ (°)</text>
<rect x="1059.4" y="640.5" width="424.0" height="433.2" fill="#fff" stroke="#000" stroke-width="2.6"/>
<g fill="#000000"><path d="M1065.7 685.4 H1198" stroke="#000000" stroke-width="2.0" fill="none"/><g transform="translate(1131.8 685.4)"><rect x="-9.8" y="-11.3" width="19.6" height="21.6"/></g></g>
<text transform="translate(1211.6 705.2) scale(0.908 1)" font-size="65" text-anchor="start">Asphalt</text>
<g fill="#f14040"><path d="M1065.7 770.4 H1198" stroke="#f14040" stroke-width="2.5" fill="none"/><g transform="translate(1131.8 770.4)"><ellipse cx="0" cy="-0.6" rx="13" ry="15.2"/></g></g>
<text transform="translate(1211.6 790.2) scale(0.908 1)" font-size="65" text-anchor="start">20%T</text>
<g fill="#1a6fdf"><path d="M1065.7 858.4 H1198" stroke="#1a6fdf" stroke-width="2.5" fill="none"/><g transform="translate(1131.8 858.4)"><path d="M0 -25.6 L18.4 11.6 H-18.4 Z"/></g></g>
<text transform="translate(1211.6 878.2) scale(0.908 1)" font-size="65" text-anchor="start">GTCM-0.5</text>
<g fill="#078f07"><path d="M1065.7 943.2 H1198" stroke="#078f07" stroke-width="2.5" fill="none"/><g transform="translate(1131.8 943.2)"><use href="#mg" x="0" y="-0.6"/></g></g>
<text transform="translate(1211.6 963) scale(0.908 1)" font-size="65" text-anchor="start">GTCM-1.0</text>
<g fill="#800080"><path d="M1065.7 1028.2 H1198" stroke="#800080" stroke-width="2.5" fill="none"/><g transform="translate(1131.8 1028.2)"><path d="M0 -19.6 L17.2 -5.6 L11 17.2 H-11 L-17.2 -5.6 Z"/></g></g>
<text transform="translate(1211.6 1048) scale(0.908 1)" font-size="65" text-anchor="start">GTCM-1.5</text>
<path d="M456.8 249.3 L456.8 262.3 M459.3 299.3 L459.3 312.3 M459.3 316 L459.3 329 M459.3 336.7 L459.3 349.7 M454.2 384.7 L454.2 397.7 M317.6 378.1 L317.6 391.1 M314.4 327.5 L314.4 340.5 M314.8 278.2 L314.8 291.2 M319.8 227.9 L319.8 240.9" stroke="#000" stroke-width="6.4" fill="none"/>
<path d="M368.8 107.7 L380.4 101.9 M408.8 114.6 L417.4 124.4 M433.5 154.9 L438.1 167.1 M448.3 201.4 L450.9 214.2 M448.1 435.2 L445.1 447.8 M433.7 480.3 L428.3 492.1 M410.4 522.3 L400 530.1 M368.5 525.5 L359.1 516.5 M343.5 484.5 L338.5 472.5 M327 438.5 L324.2 425.9 M326.4 192.8 L329.6 180.2 M342.3 146.6 L348.1 135" stroke="#000" stroke-width="4.8" fill="none"/>
<path d="M1883.5 120.1 L1896.5 120.1 M1939 188 L1939 201 M1837.1 177.9 L1837.1 190.9" stroke="#000" stroke-width="6.4" fill="none"/>
<path d="M1923.2 141.3 L1929.8 152.5 M1936.6 220.3 L1933 232.7 M1915.2 262.7 L1904.4 269.9 M1873.5 272.2 L1862.5 265.4 M1844.2 237.8 L1840 225.6 M1848.4 145.1 L1855.8 134.5" stroke="#000" stroke-width="4.8" fill="none"/>
<g fill="#000" stroke="#000">
<path d="M309 243.4 H255" stroke-width="5" fill="none"/><path d="M232 243.4 H223" stroke-width="1.6" fill="none"/><path d="M229.5 244 L262 232.3 V255.7 Z" stroke="none"/>
<path d="M1948 217.3 H1995" stroke-width="5" fill="none"/><path d="M2018 217.3 H2036" stroke-width="1.6" fill="none"/><path d="M2022 218.3 L1989.5 206.6 V230.4 Z" stroke="none"/>
</g>
</svg></body></html>
